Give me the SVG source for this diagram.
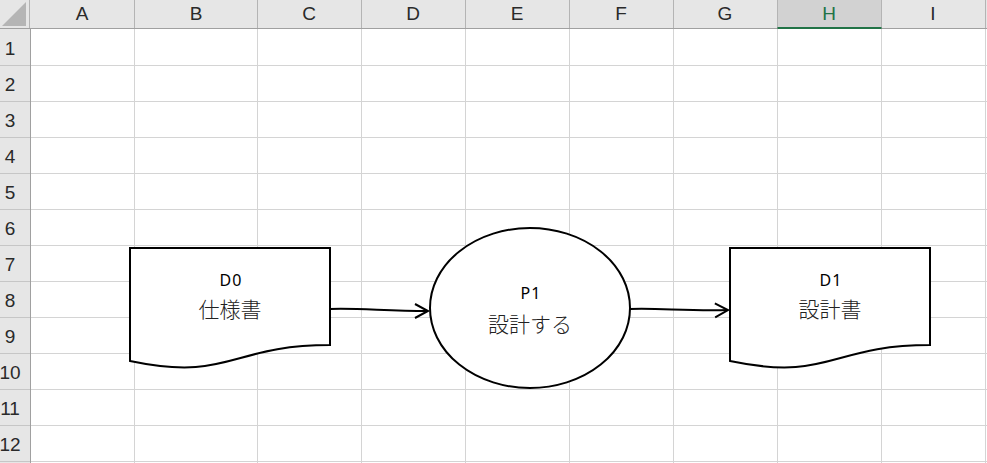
<svg xmlns="http://www.w3.org/2000/svg" width="987" height="463" viewBox="0 0 987 463">
<defs>
<style>
.grid{stroke:#d4d4d4;stroke-width:1}
.hsep{stroke:#b4b4b4;stroke-width:1}
.rsep{stroke:#c6c6c6;stroke-width:1}
.hdr{font-family:"Liberation Sans","Noto Sans CJK JP",sans-serif;font-size:19px;fill:#2a2a2a;text-anchor:middle}
.shape{fill:#fff;stroke:#000;stroke-width:2}
.conn{fill:none;stroke:#000;stroke-width:2}
.id{font-family:"Noto Sans","Noto Sans CJK JP",sans-serif;font-size:16px;letter-spacing:1px;fill:#000;text-anchor:middle}
.lbl{font-family:"Noto Sans CJK JP",sans-serif;font-size:21px;font-weight:300;fill:#222;text-anchor:middle}
</style>
<marker id="arrow" markerUnits="userSpaceOnUse" markerWidth="20" markerHeight="20" refX="14" refY="8" orient="auto" viewBox="0 0 20 16">
<path d="M1,1 L14,8 L1,15" fill="none" stroke="#000" stroke-width="2"/>
</marker>
</defs>
<rect x="0" y="0" width="987" height="463" fill="#fff"/>
<g id="grid">
<path class="grid" d="M134.5,29V463M257.5,29V463M361.5,29V463M465.5,29V463M569.5,29V463M673.5,29V463M777.5,29V463M881.5,29V463M985.5,29V463"/>
<path class="grid" d="M30,65.5H987M30,101.5H987M30,137.5H987M30,173.5H987M30,209.5H987M30,245.5H987M30,281.5H987M30,317.5H987M30,353.5H987M30,389.5H987M30,425.5H987M30,461.5H987"/>
</g>
<g id="headers">
<rect x="0" y="0" width="987" height="29" fill="#e6e6e6"/>
<rect x="777.5" y="0" width="104" height="29" fill="#d2d2d2"/>
<rect x="0" y="29" width="30" height="434" fill="#e6e6e6"/>
<polygon points="2,26 26,26 26,2" fill="#b5b5b5"/>
<path class="hsep" d="M29.5,0V29M134.5,0V29M257.5,0V29M361.5,0V29M465.5,0V29M569.5,0V29M673.5,0V29M777.5,0V29M881.5,0V29M985.5,0V29"/>
<path class="rsep" d="M0,65.5H30M0,101.5H30M0,137.5H30M0,173.5H30M0,209.5H30M0,245.5H30M0,281.5H30M0,317.5H30M0,353.5H30M0,389.5H30M0,425.5H30M0,461.5H30"/>
<path d="M0,28.5H987" stroke="#a0a0a0" stroke-width="1"/>
<path d="M30.5,29V463" stroke="#a0a0a0" stroke-width="1"/>
<path d="M777.5,28H881.5" stroke="#217346" stroke-width="2"/>
<text class="hdr" x="82" y="20">A</text>
<text class="hdr" x="196" y="20">B</text>
<text class="hdr" x="309" y="20">C</text>
<text class="hdr" x="413" y="20">D</text>
<text class="hdr" x="517" y="20">E</text>
<text class="hdr" x="621" y="20">F</text>
<text class="hdr" x="725" y="20">G</text>
<text class="hdr" x="829" y="20" style="fill:#217346">H</text>
<text class="hdr" x="933" y="20">I</text>
<text class="hdr" x="10" y="55">1</text>
<text class="hdr" x="10" y="91">2</text>
<text class="hdr" x="10" y="127">3</text>
<text class="hdr" x="10" y="163">4</text>
<text class="hdr" x="10" y="199">5</text>
<text class="hdr" x="10" y="235">6</text>
<text class="hdr" x="10" y="271">7</text>
<text class="hdr" x="10" y="307">8</text>
<text class="hdr" x="10" y="343">9</text>
<text class="hdr" x="10" y="379">10</text>
<text class="hdr" x="10" y="415">11</text>
<text class="hdr" x="10" y="451">12</text>
</g>
<g id="connectors">
<path class="conn" d="M330,309 C360,308 385,311 428,311" marker-end="url(#arrow)"/>
<path class="conn" d="M630,309 C660,308 685,311 728,310" marker-end="url(#arrow)"/>
</g>
<g id="D0">
<path class="shape" d="M130,248 H330 V345 C230,345 230,382 130,361 Z"/>
<text class="id" x="231" y="286">D0</text>
<text class="lbl" x="230" y="317">仕様書</text>
</g>
<g id="P1">
<ellipse class="shape" cx="530" cy="308" rx="100" ry="80"/>
<text class="id" x="531" y="299">P1</text>
<text class="lbl" x="530" y="332">設計する</text>
</g>
<g id="D1">
<path class="shape" d="M730,248 H930 V345 C830,345 830,382 730,361 Z"/>
<text class="id" x="831" y="286">D1</text>
<text class="lbl" x="830" y="317">設計書</text>
</g>
</svg>
